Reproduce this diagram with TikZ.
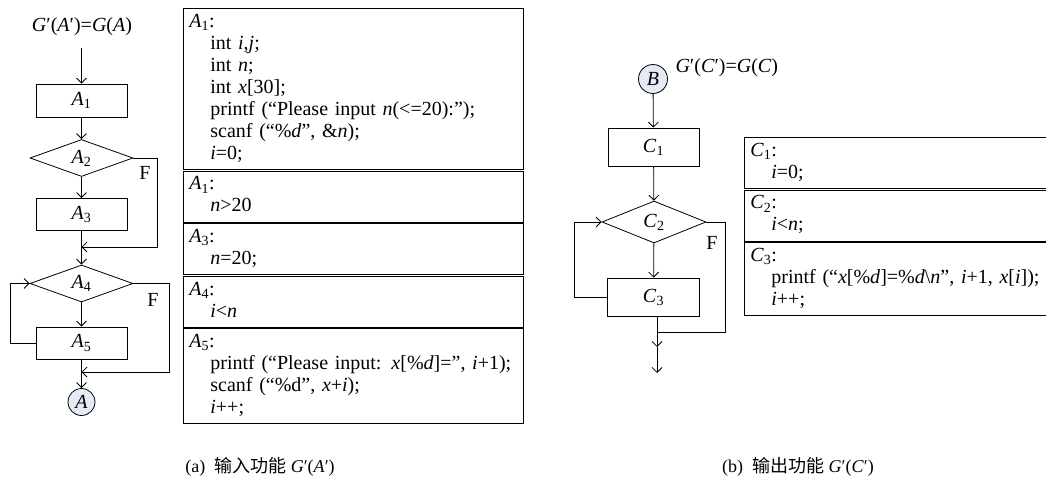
\documentclass[tikz,border=0pt]{standalone}
\usepackage{fontspec}
\setmainfont{Liberation Serif}
\newfontfamily\cjk{Noto Sans CJK SC}
\usetikzlibrary{arrows.meta,shapes.geometric,calc}
\definecolor{connfill}{RGB}{228,234,246}
\newcommand{\myln}{\strut\hspace*{21pt}}
\newcommand{\myit}[1]{\textit{#1}}
\begin{document}
\begin{tikzpicture}[x=1pt,y=-1pt,
  every node/.style={font=\fontsize{20}{22}\selectfont},
  line/.style={line width=0.8pt},
  arr/.style={line width=0.8pt,-{Straight Barb[length=5pt,width=10pt]}},
  proc/.style={draw,line width=0.8pt,rectangle,minimum width=91pt,minimum height=33pt,inner sep=0pt},
  dec/.style={draw,line width=0.8pt,diamond,aspect=2.8,minimum width=103pt,minimum height=37pt,inner sep=0pt},
  conn/.style={draw,line width=0.8pt,circle,fill=connfill,minimum size=27pt,inner sep=0pt},
  sec/.style={draw,line width=0.8pt,rectangle,anchor=north west,align=left,inner xsep=6pt,inner ysep=3.5pt},
  captxt/.style={font=\fontsize{18}{20}\selectfont},
]
\useasboundingbox (0,0) rectangle (1046,488);

% ---------- left flowchart ----------
\node (lblA) at (82,27) {\myit{G}′(\myit{A}′)=\myit{G}(\myit{A})};
\coordinate (s0) at (81.5,48);
\node[proc] (a1) at (81.5,100.5) {\myit{A}\textsubscript{1}};
\node[dec] (a2) at (81.5,158) {\myit{A}\textsubscript{2}};
\node[proc,minimum height=32pt] (a3) at (81.5,214.5) {\myit{A}\textsubscript{3}};
\coordinate (j1) at (81.5,247);
\node[dec] (a4) at (81.5,283.5) {\myit{A}\textsubscript{4}};
\node[proc,minimum height=32pt] (a5) at (81.5,343) {\myit{A}\textsubscript{5}};
\coordinate (j2) at (81.5,372);
\node[conn] (ca) at (81.5,402) {\myit{A}};
\coordinate (r1) at (157,247);
\coordinate (r2) at (169,372);
\coordinate (l1) at (10,343);
\node (fa2) at (145,173) {F};
\node (fa4) at (153,300) {F};

\draw[arr] (s0) -- (a1);
\draw[arr] (a1) -- (a2);
\draw[arr] (a2) -- (a3);
\draw[arr] (a2.east) -| (r1) -- (j1);
\draw[arr] (a3) -- (a4);
\draw[arr] (a4) -- (a5);
\draw[arr] (a4.east) -| (r2) -- (j2);
\draw[arr] (a5.west) -- (l1) |- (a4.west);
\draw[arr] (a5) -- (ca);

% ---------- table A ----------
\node[sec,text width=328pt] (ta1) at (183,8) {\strut\myit{A}\textsubscript{1}:\\
\myln int \myit{i},\myit{j};\\
\myln int \myit{n};\\
\myln int \myit{x}[30];\\
\myln printf (“Please input \myit{n}(<=20):”);\\
\myln scanf (“\%\myit{d}”, \&\myit{n});\\
\myln \myit{i}=0;};
\node[sec,text width=328pt] (ta2) at ([yshift=-0.8pt]ta1.south west) {\strut\myit{A}\textsubscript{1}:\\
\myln \myit{n}>20};
\node[sec,text width=328pt] (ta3) at ([yshift=-0.8pt]ta2.south west) {\strut\myit{A}\textsubscript{3}:\\
\myln \myit{n}=20;};
\node[sec,text width=328pt] (ta4) at ([yshift=-0.8pt]ta3.south west) {\strut\myit{A}\textsubscript{4}:\\
\myln \myit{i}<\myit{n}};
\node[sec,text width=328pt] (ta5) at ([yshift=-0.8pt]ta4.south west) {\strut\myit{A}\textsubscript{5}:\\
\myln printf (“Please input: \myit{x}[\%\myit{d}]=”, \myit{i}+1);\\
\myln scanf (“\%d”, \myit{x}+\myit{i});\\
\myln \myit{i}++;};

% ---------- right flowchart ----------
\node[conn,minimum size=29pt] (cb) at (653,79) {\myit{B}};
\node[anchor=west] (lblC) at (672,68) {\myit{G}′(\myit{C}′)=\myit{G}(\myit{C})};
\node[proc,minimum height=38pt] (c1) at (653.5,147) {\myit{C}\textsubscript{1}};
\node[dec,minimum width=104pt,minimum height=42pt] (c2) at (654,222) {\myit{C}\textsubscript{2}};
\node[proc,minimum width=92pt,minimum height=38pt] (c3) at (653.5,297) {\myit{C}\textsubscript{3}};
\coordinate (l2) at (574,297);
\coordinate (r3) at (725,332);
\coordinate (j3) at (657,332);
\coordinate (m3) at (657,347);
\coordinate (e3) at (657,373);
\node (fc2) at (712,243) {F};

\draw[arr] (cb) -- (c1);
\draw[arr] (c1) -- (c2);
\draw[arr] (c2) -- (c3);
\draw[arr] (c3.west) -- (l2) |- (c2.west);
\draw[line] (c2.east) -| (r3) -- (j3);
\draw[arr] (c3.south -| m3) -- (m3);
\draw[arr] (m3) -- (e3);

% ---------- table C ----------
\begin{scope}
\clip (0,0) rectangle (1046,488);
\node[sec,text width=330pt] (tc1) at (744,137) {\strut\myit{C}\textsubscript{1}:\\
\myln \myit{i}=0;};
\node[sec,text width=330pt] (tc2) at ([yshift=-0.8pt]tc1.south west) {\strut\myit{C}\textsubscript{2}:\\
\myln \myit{i}<\myit{n};};
\node[sec,text width=330pt] (tc3) at ([yshift=-0.8pt]tc2.south west) {\strut\myit{C}\textsubscript{3}:\\
\myln printf (“\myit{x}[\%\myit{d}]=\%\myit{d}\textbackslash\myit{n}”, \myit{i}+1, \myit{x}[\myit{i}]);\\
\myln \myit{i}++;};
\end{scope}

% ---------- captions ----------
\node[captxt] (capa) at (260,467) {(a)\hspace{9pt}{\cjk 输入功能} \myit{G}′(\myit{A}′)};
\node[captxt] (capb) at (798,467) {(b)\hspace{9pt}{\cjk 输出功能} \myit{G}′(\myit{C}′)};
\end{tikzpicture}
\end{document}
